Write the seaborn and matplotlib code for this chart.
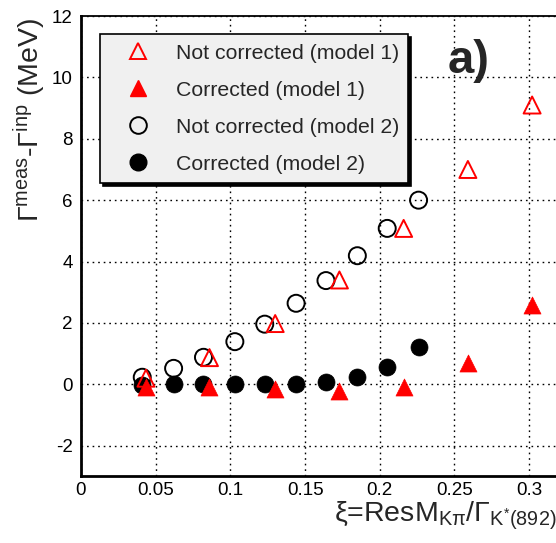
import matplotlib
matplotlib.use("Agg")
import matplotlib.pyplot as plt
import seaborn as sns
import pandas as pd
import numpy as np
from matplotlib.ticker import MultipleLocator, FixedLocator, FixedFormatter
from matplotlib.lines import Line2D

sns.set_theme(style="white")
plt.rcParams['font.family'] = ['Liberation Sans', 'DejaVu Sans']
plt.rcParams['mathtext.fontset'] = 'custom'
plt.rcParams['mathtext.rm'] = 'Liberation Sans'
plt.rcParams['mathtext.it'] = 'Liberation Sans'

# ---- data ----
xi_m1 = [0.0435, 0.086, 0.130, 0.173, 0.216, 0.259, 0.302]
notcorr_m1 = [0.20, 0.87, 1.98, 3.40, 5.08, 7.00, 9.10]
corr_m1 = [-0.08, -0.10, -0.16, -0.22, -0.10, 0.68, 2.58]

xi_m2 = [0.041, 0.062, 0.082, 0.103, 0.123, 0.144, 0.164, 0.185, 0.205, 0.226]
notcorr_m2 = [0.23, 0.52, 0.88, 1.39, 1.96, 2.64, 3.38, 4.19, 5.08, 6.00]
corr_m2 = [-0.03, 0.00, 0.00, 0.00, 0.00, 0.02, 0.08, 0.25, 0.57, 1.22]

labels = ["Not corrected (model 1)", "Corrected (model 1)",
          "Not corrected (model 2)", "Corrected (model 2)"]
xtick_vals = [0, 0.05, 0.1, 0.15, 0.2, 0.25, 0.3]
xtick_labels = ["0", "0.05", "0.1", "0.15", "0.2", "0.25", "0.3"]
ytick_vals = [-2, 0, 2, 4, 6, 8, 10, 12]
ytick_labels = ["-2", "0", "2", "4", "6", "8", "10", "12"]

fig = plt.figure(figsize=(5.56, 5.43), dpi=100)
ax = fig.add_axes([81/556, 66.6/543, (559-81)/556, (527-66.6)/543])

df_m1 = pd.DataFrame({"xi": xi_m1, "nc": notcorr_m1, "c": corr_m1})
df_m2 = pd.DataFrame({"xi": xi_m2, "nc": notcorr_m2, "c": corr_m2})

ms = 150
sns.scatterplot(data=df_m2, x="xi", y="c", ax=ax, marker="o", s=ms,
                color="black", edgecolor="black", linewidth=0.5,
                zorder=3, legend=False)
sns.scatterplot(data=df_m2, x="xi", y="nc", ax=ax, marker="o", s=ms,
                facecolor="none", edgecolor="black", linewidth=1.4,
                zorder=3, legend=False)
sns.scatterplot(data=df_m1, x="xi", y="c", ax=ax, marker="^", s=ms,
                color="#ff0000", edgecolor="#ff0000", linewidth=0.5,
                zorder=4, legend=False)
sns.scatterplot(data=df_m1, x="xi", y="nc", ax=ax, marker="^", s=ms,
                facecolor="none", edgecolor="#ff0000", linewidth=1.4,
                zorder=4, legend=False)

# legend handles
handles = [
    Line2D([], [], ls="none", marker="^", ms=12, mfc="none", mec="#ff0000", mew=1.4),
    Line2D([], [], ls="none", marker="^", ms=12, mfc="#ff0000", mec="#ff0000"),
    Line2D([], [], ls="none", marker="o", ms=12, mfc="none", mec="black", mew=1.4),
    Line2D([], [], ls="none", marker="o", ms=12, mfc="black", mec="black"),
]
leg = ax.legend(handles, labels, loc="upper left", bbox_to_anchor=(0.04, 0.961),
                borderaxespad=0, fontsize=15.3, frameon=True, fancybox=False,
                handlelength=2.7, handletextpad=0.4, labelspacing=0.85,
                borderpad=0.45, shadow={'color': 'black', 'alpha': 1.0, 'shade': 0})
leg.get_frame().set_facecolor("#f0f0f0")
leg.get_frame().set_edgecolor("black")
leg.get_frame().set_linewidth(1.2)
leg.get_frame().set_alpha(1.0)
leg.set_zorder(10)

ax.set_xlim(0, 0.32)
ax.set_ylim(-3, 12)
ax.xaxis.set_major_locator(FixedLocator(xtick_vals))
ax.xaxis.set_major_formatter(FixedFormatter(xtick_labels))
ax.xaxis.set_minor_locator(MultipleLocator(0.01))
ax.yaxis.set_major_locator(FixedLocator(ytick_vals))
ax.yaxis.set_major_formatter(FixedFormatter(ytick_labels))
ax.yaxis.set_minor_locator(MultipleLocator(0.5))

ax.tick_params(axis="both", which="both", direction="in", colors="black",
               labelsize=13.5, top=False, right=False)
ax.tick_params(axis="both", which="major", length=9, width=1.5)
ax.tick_params(axis="both", which="minor", length=5, width=1.2)
ax.tick_params(axis="x", which="major", pad=4)
ax.tick_params(axis="y", which="major", pad=6)

ax.grid(True, which="major", color="black", linestyle=(0, (1.2, 2.8)), linewidth=1.0)
ax.set_axisbelow(True)

for s in ["left", "bottom"]:
    ax.spines[s].set_linewidth(2.0)
    ax.spines[s].set_color("black")
ax.spines["top"].set_linewidth(1.3)
ax.spines["top"].set_color("black")
ax.spines["right"].set_visible(False)

ax.set_xlabel(r"$\xi$=ResM$_{\mathrm{K}\pi}$/$\Gamma_{\mathrm{K}^{*}\mathrm{(892)}}$",
              fontsize=20.5, loc="right")
ax.xaxis.set_label_coords(0.994, -0.050)
ax.set_ylabel(r"$\Gamma^{\mathrm{meas}}$-$\Gamma^{\mathrm{inp}}$ (MeV)", fontsize=20.5, loc="top")
ax.yaxis.set_label_coords(-0.068, 0.995)

fig.text(448/556, 1 - 73/543, "a)", fontsize=34, fontweight="bold",
         ha="left", va="baseline")

fig.savefig("out.png", dpi=100)
